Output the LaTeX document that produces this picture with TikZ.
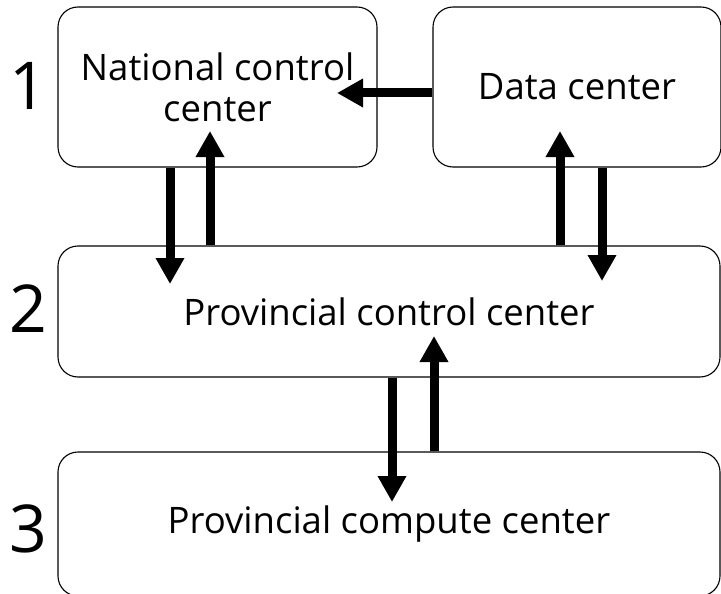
\documentclass[tikz,border=0pt]{standalone}
\usepackage{fontspec}
\setmainfont{Open Sans}
\usetikzlibrary{arrows.meta}
\tikzset{
  box/.style={draw=black, line width=1.1pt, rounded corners=20pt, fill=white, align=center, inner sep=0pt, font=\fontsize{36.5}{41}\selectfont},
  arr/.style={line width=9pt, -{Triangle[length=26pt,width=27pt]}},
  lvl/.style={font=\fontsize{66}{66}\selectfont, inner sep=0pt}
}
\begin{document}
\begin{tikzpicture}[x=1pt,y=-1pt]
\useasboundingbox (0,0) rectangle (721,594);
\clip (0,0) rectangle (721,594);
\node[box, minimum width=319pt, minimum height=160pt] (nat) at (217.5,87) {National control\\center};
\node[box, minimum width=288pt, minimum height=160pt] (dat) at (577,87) {Data center};
\node[box, minimum width=662pt, minimum height=131pt] (pcc) at (389,311.5) {Provincial control center};
\node[box, minimum width=662pt, minimum height=144pt] (pcm) at (389,524) {Provincial compute center};
\node[lvl] (l1) at (28,86) {1};
\node[lvl] (l2) at (28,309) {2};
\node[lvl] (l3) at (28,529) {3};
\coordinate (t1) at (170,284);
\coordinate (t2) at (210,131);
\coordinate (t3) at (337,93);
\coordinate (t4) at (560,131);
\coordinate (t5) at (602,281);
\coordinate (t6) at (392,502);
\coordinate (t7) at (434,336);
\draw[arr] (nat.south -| t1) -- (t1);
\draw[arr] (pcc.north -| t2) -- (t2);
\draw[arr] (dat.west |- t3) -- (t3);
\draw[arr] (pcc.north -| t4) -- (t4);
\draw[arr] (dat.south -| t5) -- (t5);
\draw[arr] (pcc.south -| t6) -- (t6);
\draw[arr] (pcm.north -| t7) -- (t7);
\end{tikzpicture}
\end{document}
